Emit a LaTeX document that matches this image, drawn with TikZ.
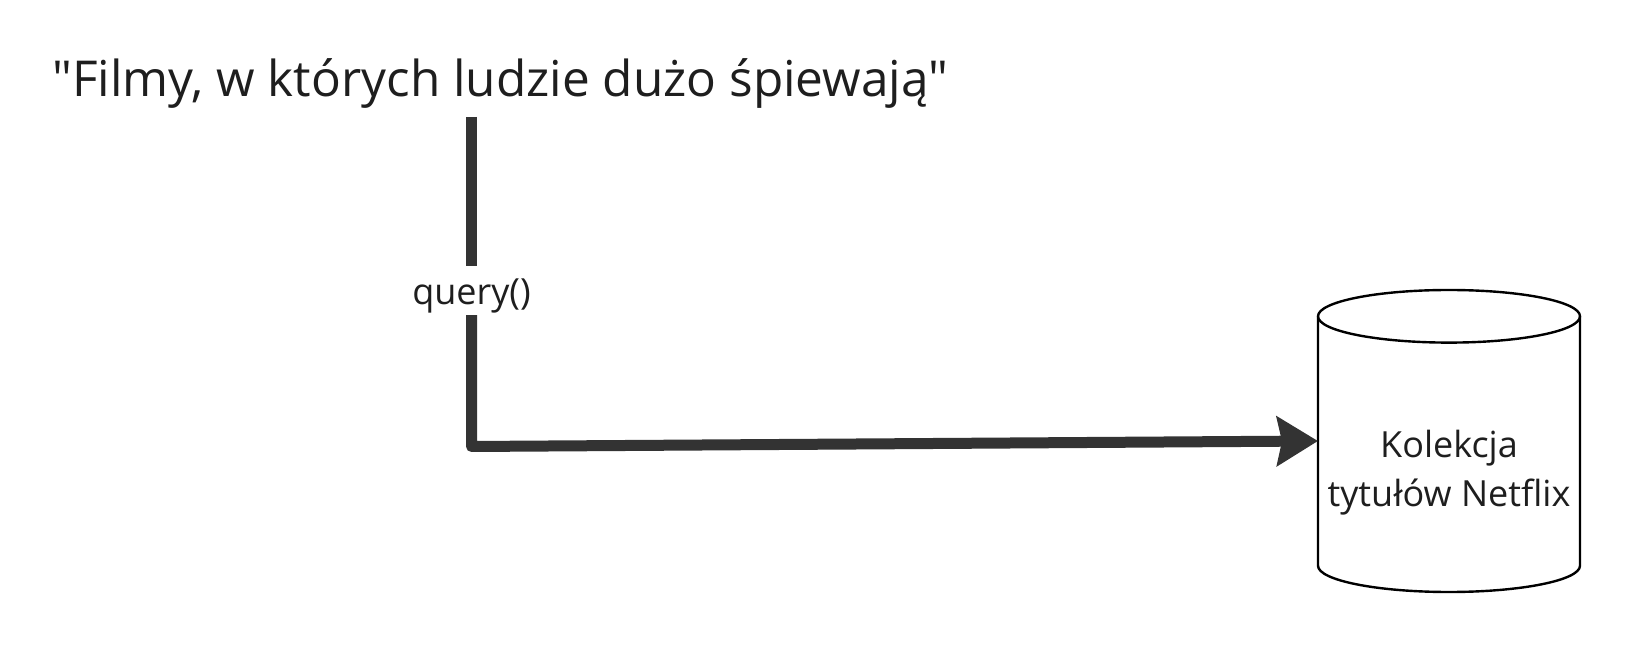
\documentclass[tikz,border=0pt]{standalone}
\usepackage{fontspec}
\setmainfont{Open Sans}[Ligatures=TeXOff]
\usetikzlibrary{arrows.meta}
\definecolor{linecol}{RGB}{51,51,51}
\definecolor{txtcol}{RGB}{30,30,30}
\begin{document}
\begin{tikzpicture}[x=1pt,y=1pt,
  conn/.style={line width=11pt, draw=linecol, line join=round},
  cyl/.style={line width=2.4pt, draw=black},
  every node/.style={text=txtcol}]
\useasboundingbox[fill=white] (0,0) rectangle (1632,656);
% title
\node[anchor=base west, inner sep=0pt, font=\fontsize{49.5}{59}\selectfont] (title) at (52,559.3)
  {"Filmy, w których ludzie dużo śpiewają"};
\coordinate (top) at (471.5,539);
% label on the connector
\node[anchor=base, inner sep=0pt, text height=39pt, text depth=10pt,
  font=\fontsize{36}{44}\selectfont] (q) at (471.5,351) {query()};
\coordinate (corner) at (471.5,209.5);
% database body (cylinder)
\node[minimum width=262pt, minimum height=302pt, inner sep=0pt, outer sep=0pt] (db) at (1449,215) {};
\draw[cyl] ([yshift=-26.3pt]db.north) ellipse [x radius=131pt, y radius=26.3pt];
\draw[cyl] ([yshift=-26.3pt]db.north west) -- ([yshift=26.3pt]db.south west)
  arc[start angle=180, end angle=360, x radius=131pt, y radius=26.3pt]
  -- ([yshift=-26.3pt]db.north east);
\node[align=center, inner sep=0pt, font=\fontsize{36}{49.4}\selectfont] (dbtext)
  at ([yshift=-31.6pt]db.center) {Kolekcja\\tytułów Netflix};
% connectors
\draw[conn] (top) -- (q.north);
\draw[conn, -{Stealth[length=41pt, width=49pt, inset=5pt]}] (q.south) -- (corner) -- (db.west);
\end{tikzpicture}
\end{document}
